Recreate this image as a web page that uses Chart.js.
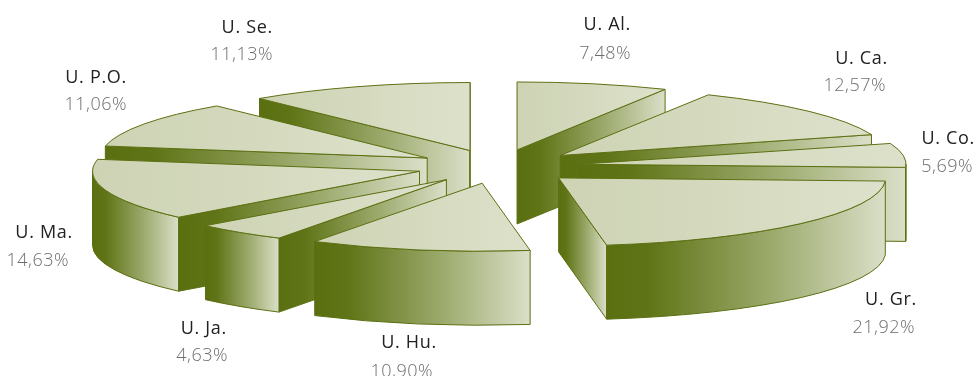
<!DOCTYPE html>
<html>
<head>
<meta charset="utf-8">
<script src="https://cdn.jsdelivr.net/npm/chart.js@4"></script>
<style>
  html, body { margin: 0; background: #fff; overflow: hidden; }
  canvas { display: block; }
</style>
</head>
<body>
<canvas id="chart" width="978" height="376"></canvas>
<script>
const categories = ['U. Al.', 'U. Ca.', 'U. Co.', 'U. Gr.', 'U. Hu.', 'U. Ja.', 'U. Ma.', 'U. P.O.', 'U. Se.'];
const shares = [7.48, 12.57, 5.69, 21.92, 10.90, 4.63, 14.63, 11.06, 11.13];
const shareLabels = ['7,48%', '12,57%', '5,69%', '21,92%', '10,90%', '4,63%', '14,63%', '11,06%', '11,13%'];

// where each label sits: right edges and baselines
const nameRight = [631, 888, 975, 917, 437, 227, 73, 127, 273];
const nameBase = [30, 64, 144, 305, 348, 334, 238, 83, 33];
const shareRight = [631, 886, 973, 915, 433, 228, 69, 127, 273];
const shareBase = [59, 91, 172, 333, 377, 361, 266, 110, 60];

// look of the tilted pie
const radiusX = 327;
const radiusY = 68;
const explode = 0.25;
const depth = 74;
const edgeColor = '#5c7012';

function wallGradient(ctx, x0, x1) {
    const g = ctx.createLinearGradient(Math.min(x0, x1), 0, Math.max(x0, x1), 0);
    g.addColorStop(0, '#5a6f10');
    g.addColorStop(0.15, '#5f7416');
    g.addColorStop(0.6, '#9dab6e');
    g.addColorStop(1, '#dadfc8');
    return g;
}

function topGradient(ctx, x0, x1) {
    const g = ctx.createLinearGradient(x0, 0, x1, 0);
    g.addColorStop(0, '#cdd3b3');
    g.addColorStop(1, '#dde1cb');
    return g;
}

function paint(ctx, fill) {
    ctx.fillStyle = fill;
    ctx.fill();
    ctx.strokeStyle = edgeColor;
    ctx.lineWidth = 1;
    ctx.stroke();
}

function drawSlice(ctx, arc) {
    const start = arc.startAngle;
    const end = arc.endAngle;
    const mid = (start + end) / 2;
    const ax = arc.x + Math.cos(mid) * explode * radiusX;
    const ay = arc.y + Math.sin(mid) * explode * radiusY;
    const px = t => ax + radiusX * Math.cos(t);
    const py = t => ay + radiusY * Math.sin(t);

    // cut faces, only the ones turned towards the viewer
    const cutFace = t => {
        ctx.beginPath();
        ctx.moveTo(ax, ay);
        ctx.lineTo(px(t), py(t));
        ctx.lineTo(px(t), py(t) + depth);
        ctx.lineTo(ax, ay + depth);
        ctx.closePath();
        paint(ctx, wallGradient(ctx, ax, px(t)));
    };
    if (Math.cos(start) < 0) cutFace(start);
    if (Math.cos(end) > 0) cutFace(end);

    // rim, front half only
    const lo = Math.max(start, 0);
    const hi = Math.min(end, Math.PI);
    if (hi > lo) {
        ctx.beginPath();
        ctx.ellipse(ax, ay, radiusX, radiusY, 0, lo, hi);
        ctx.ellipse(ax, ay + depth, radiusX, radiusY, 0, hi, lo, true);
        ctx.closePath();
        paint(ctx, wallGradient(ctx, px(lo), px(hi)));
    }

    // top face
    let minX = ax, maxX = ax;
    for (let i = 0; i <= 40; i++) {
        const x = px(start + (end - start) * i / 40);
        minX = Math.min(minX, x);
        maxX = Math.max(maxX, x);
    }
    ctx.beginPath();
    ctx.moveTo(ax, ay);
    ctx.ellipse(ax, ay, radiusX, radiusY, 0, start, end);
    ctx.closePath();
    paint(ctx, topGradient(ctx, minX, maxX));
}

const tiltedPie = {
    id: 'tiltedPie',
    beforeDatasetDraw(chart) {
        const ctx = chart.ctx;
        const arcs = chart.getDatasetMeta(0).data.slice();
        const apexY = a => a.y + Math.sin((a.startAngle + a.endAngle) / 2) * explode * radiusY;
        arcs.sort((a, b) => apexY(a) - apexY(b)); // back to front
        ctx.save();
        ctx.lineJoin = 'round';
        arcs.forEach(a => drawSlice(ctx, a));
        ctx.restore();
        return false;
    },
    afterDraw(chart) {
        const ctx = chart.ctx;
        ctx.save();
        ctx.textAlign = 'right';
        categories.forEach((name, i) => {
            ctx.font = '400 18px "Open Sans"';
            ctx.letterSpacing = '0.7px';
            ctx.fillStyle = '#222222';
            ctx.fillText(name, nameRight[i], nameBase[i]);
            ctx.font = '300 18px "Open Sans"';
            ctx.letterSpacing = '0.5px';
            ctx.fillStyle = '#6e6e6e';
            ctx.fillText(shareLabels[i], shareRight[i], shareBase[i]);
        });
        ctx.restore();
    }
};

new Chart(document.getElementById('chart').getContext('2d'), {
    type: 'pie',
    data: {
        labels: categories,
        datasets: [{ data: shares, backgroundColor: '#d5dabf', borderWidth: 0 }]
    },
    options: {
        responsive: false,
        animation: false,
        events: [],
        layout: { padding: { left: 18, bottom: 43 } },
        plugins: {
            legend: { display: false },
            tooltip: { enabled: false }
        }
    },
    plugins: [tiltedPie]
});
</script>
</body>
</html>
